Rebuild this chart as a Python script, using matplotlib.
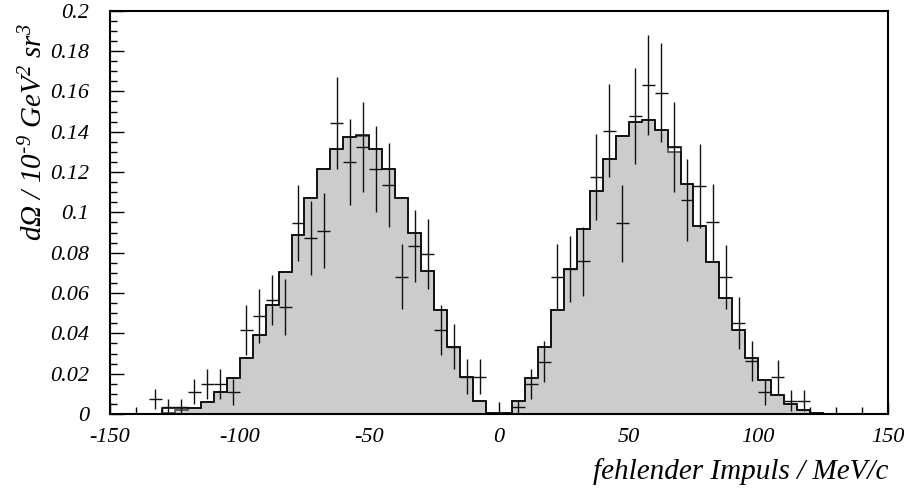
import matplotlib
matplotlib.use('Agg')
import matplotlib.pyplot as plt
from matplotlib.ticker import MultipleLocator, FuncFormatter
import numpy as np

plt.rcParams['font.family'] = 'Liberation Serif'
plt.rcParams['font.style'] = 'italic'
plt.rcParams['mathtext.default'] = 'regular'
plt.rcParams['axes.unicode_minus'] = False

# bin edges of both histograms (5 MeV/c bins)
bin_edges = np.arange(-150, 155, 5)

# grey filled histogram, one value per bin from -150 to 150
fill_vals = [0, 0, 0, 0, 0.0005, 0.002, 0.0028, 0.0061, 0.011, 0.0177,
             0.0276, 0.0392, 0.054, 0.0706, 0.0888, 0.107, 0.1216, 0.1314, 0.1376, 0.138,
             0.1313, 0.1215, 0.1073, 0.0897, 0.071, 0.0516, 0.0334, 0.0185, 0.0065, 0.0007,
             0.0007, 0.0066, 0.0177, 0.0334, 0.0516, 0.0718, 0.0918, 0.1106, 0.1265, 0.138,
             0.1448, 0.1458, 0.1407, 0.1298, 0.1141, 0.093, 0.0756, 0.0574, 0.0417, 0.0276,
             0.0169, 0.0094, 0.005, 0.002, 0.0007, 0, 0, 0, 0, 0]

# black outline histogram
line_vals = [0, 0, 0, 0, 0.003, 0.003, 0.0028, 0.0061, 0.011, 0.0177,
             0.0276, 0.0392, 0.054, 0.0706, 0.0888, 0.107, 0.1216, 0.1314, 0.1376, 0.1385,
             0.1313, 0.1215, 0.1073, 0.0897, 0.071, 0.0516, 0.0334, 0.0185, 0.0065, 0.0007,
             0.0007, 0.0066, 0.0177, 0.0334, 0.0516, 0.0718, 0.0918, 0.1106, 0.1265, 0.138,
             0.1448, 0.1458, 0.1407, 0.1326, 0.1141, 0.093, 0.0756, 0.0574, 0.0417, 0.0276,
             0.0169, 0.0094, 0.005, 0.002, 0.0007, 0, 0, 0, 0, 0]

# measured points
pt_x = [-132.5, -127.5, -122.5, -117.5, -112.5, -107.5, -102.5, -97.5, -92.5, -87.5,
        -82.5, -77.5, -72.5, -67.5, -62.5, -57.5, -52.5, -47.5, -42.5, -37.5,
        -32.5, -27.5, -22.5, -17.5, -12.5, -7.5,
        7.5, 12.5, 17.5, 22.5, 27.5, 32.5, 37.5, 42.5, 47.5, 52.5,
        57.5, 62.5, 67.5, 72.5, 77.5, 82.5, 87.5, 92.5, 97.5, 102.5,
        107.5, 112.5, 117.5]
pt_y = [0.0073, 0.0034, 0.0034, 0.0111, 0.0147, 0.0147, 0.0111, 0.0417, 0.0487, 0.0565,
        0.0529, 0.0946, 0.0871, 0.0909, 0.1441, 0.1251, 0.1325, 0.1213, 0.1136, 0.0681,
        0.0835, 0.0793, 0.0417, 0.0334, 0.0185, 0.0185,
        0.0036, 0.0147, 0.0259, 0.0681, 0.0718, 0.0757, 0.1175, 0.1405, 0.0946, 0.1478,
        0.1631, 0.1593, 0.1325, 0.1061, 0.113, 0.095, 0.0681, 0.045, 0.0263, 0.0108,
        0.0185, 0.0066, 0.0066]
pt_err = [0.005, 0.0039, 0.0039, 0.0062, 0.0074, 0.0074, 0.0065, 0.0124, 0.0134, 0.0124,
          0.0139, 0.0188, 0.0183, 0.0186, 0.0228, 0.0213, 0.0223, 0.0213, 0.0208, 0.0161,
          0.0179, 0.0174, 0.0124, 0.0112, 0.0086, 0.0086,
          0.0032, 0.0074, 0.0101, 0.0161, 0.0165, 0.017, 0.0213, 0.0232, 0.019, 0.0236,
          0.0248, 0.0246, 0.0223, 0.0202, 0.021, 0.019, 0.0159, 0.013, 0.0101, 0.0062,
          0.0085, 0.0052, 0.0052]

fig = plt.figure(figsize=(9.06, 4.91), dpi=100)
ax = fig.add_axes([0.1214, 0.1568, 0.8587, 0.8214])

# histograms
ax.stairs(fill_vals, bin_edges, fill=True, color='#cccccc', zorder=1)
ax.stairs(fill_vals, bin_edges, color='#555555', lw=1.3, zorder=2)
ax.stairs(line_vals, bin_edges, color='black', lw=1.1, zorder=3)

# data points with error bars
ax.errorbar(pt_x, pt_y, yerr=pt_err, xerr=2.5, fmt='none', ecolor='#111111',
            elinewidth=1.0, capsize=0, zorder=4)

ax.set_xlim(-150, 150)
ax.set_ylim(0, 0.2)

# ticks
ax.xaxis.set_major_locator(MultipleLocator(50))
ax.xaxis.set_minor_locator(MultipleLocator(10))
ax.yaxis.set_major_locator(MultipleLocator(0.02))
ax.yaxis.set_minor_locator(MultipleLocator(0.005))
ax.yaxis.set_major_formatter(FuncFormatter(lambda v, p: '%g' % round(v, 3)))
ax.xaxis.set_major_formatter(FuncFormatter(lambda v, p: '%g' % v))
ax.tick_params(axis='x', which='major', direction='in', length=9, width=1.0,
               labelsize=16, pad=10, top=False)
ax.tick_params(axis='x', which='minor', direction='in', length=4.7, width=1.0, top=False)
ax.tick_params(axis='y', which='major', direction='in', length=10, width=1.0,
               labelsize=16, pad=15, right=False)
ax.tick_params(axis='y', which='minor', direction='in', length=5, width=1.0, right=False)
ax.set_axisbelow(True)
for s in ax.spines.values():
    s.set_linewidth(1.5)

# axis titles
ax.set_ylabel(r'dΩ / 10$^{\text{-}9}$ GeV$^{2}$ sr$^{3}$', fontsize=21)
ax.yaxis.set_label_coords(-0.079, 0.70)
ax.set_xlabel('fehlender Impuls / MeV/c', fontsize=21, ha='right')
ax.xaxis.set_label_coords(1.0, -0.11)

plt.savefig('out.png', dpi=100)
